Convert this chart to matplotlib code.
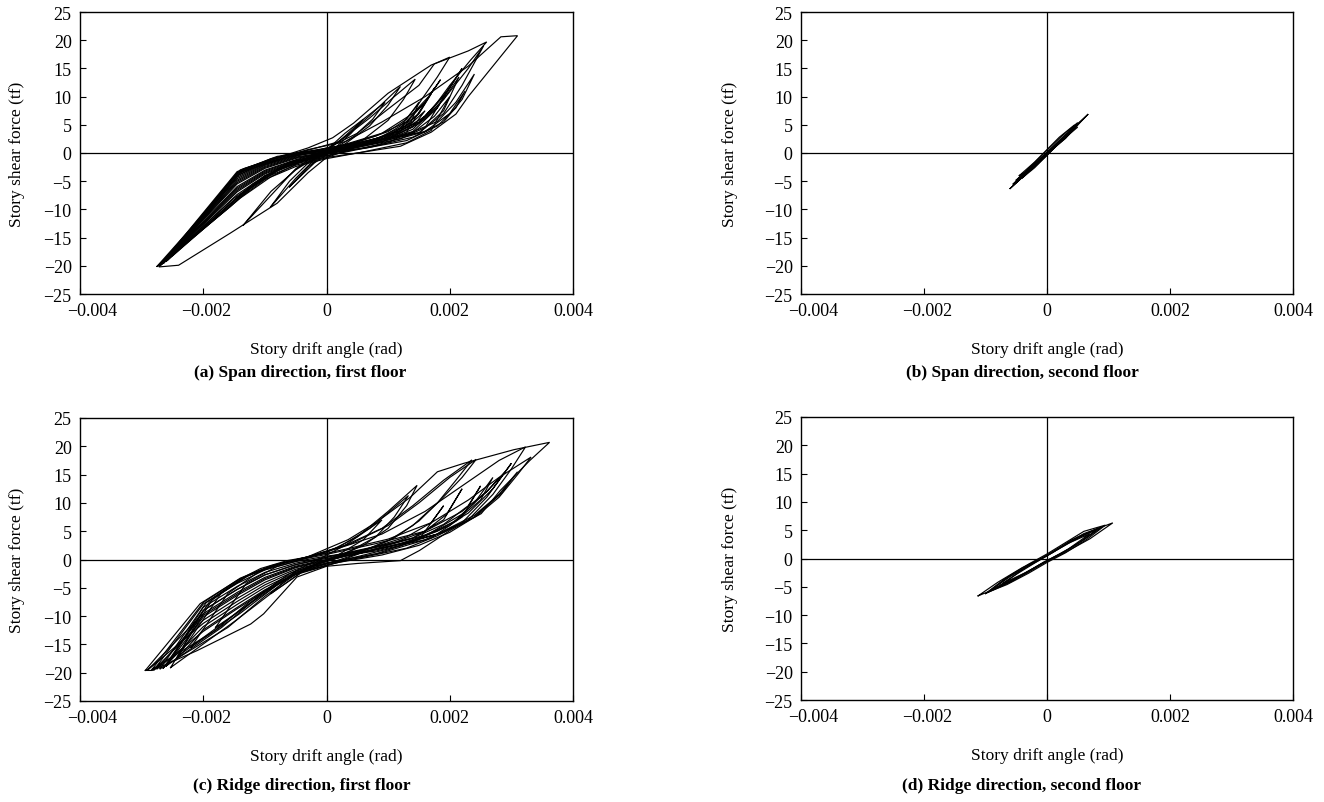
import matplotlib
matplotlib.use("Agg")
import matplotlib.pyplot as plt
import matplotlib.transforms as mtransforms
import numpy as np

plt.rcParams["font.family"] = ["Liberation Serif", "DejaVu Serif"]

# Story drift in units of 1/1000 rad, story shear force in tf.
# Each panel holds a list of recorded loops as (drift, force) vertex lists.

span_1f_loops = [
    ([0.0, 0.5, 1.2, 1.7, 2.1, 2.3, 3.1, 2.83, 2.3, 1.6, 0.9, 0.3, -0.3, -0.9, -1.3, -1.45, -2.72, -2.4, -1.56, -0.8, -0.3, 0.0],
     [-0.8, 0.0, 1.2, 3.7, 6.9, 10.0, 20.8, 20.6, 15.4, 10.0, 5.5, 2.0, 0.6, -1.2, -2.7, -3.6, -20.2, -19.9, -14.2, -8.9, -3.5, -0.8]),
    ([-2.7, -2.0, -1.45, -0.9, -0.3, 0.1, 0.44, 1.0, 1.7, 2.3, 2.6, 2.34, 2.0, 1.7, 1.4, 0.9, 0.3, -0.2, -0.6, -1.2, -1.56, -2.7],
     [-19.7, -11.0, -3.6, -1.2, 0.9, 2.7, 5.3, 10.6, 15.6, 18.1, 19.7, 16.5, 12.0, 7.5, 4.2, 2.0, 0.5, -0.5, -1.8, -6.0, -9.5, -19.7]),
    ([-2.65, -1.5, -1.0, -0.5, 0.0, 0.5, 1.0, 1.5, 1.75, 2.0, 1.8, 1.5, 1.2, 0.8, 0.3, -0.3, -0.8, -1.3, -1.6, -2.65],
     [-19.4, -4.2, -1.8, -0.3, 0.8, 3.5, 7.8, 12.0, 15.8, 17.0, 13.5, 8.8, 4.8, 2.2, 0.6, -0.8, -3.0, -6.8, -9.8, -19.4]),
    ([-2.6, -1.45, -0.9, -0.4, 0.2, 0.7, 1.1, 1.44, 1.25, 1.0, 0.6, 0.2, -0.4, -0.9, -1.4, -2.6],
     [-19.0, -3.5, -1.0, 0.2, 2.0, 6.2, 10.0, 13.1, 9.5, 5.8, 2.4, 0.5, -1.5, -4.2, -8.0, -19.0]),
    ([-1.35, -0.9, -0.5, -0.1, 0.3, 0.7, 1.2, 1.0, 0.7, 0.3, -0.2, -0.5, -0.9, -1.35],
     [-12.8, -6.8, -3.0, -0.2, 2.8, 6.6, 11.8, 8.5, 4.8, 1.6, -0.5, -2.8, -7.5, -12.8]),
    ([-0.91, -0.6, -0.3, 0.0, 0.3, 0.6, 0.95, 0.75, 0.45, 0.1, -0.2, -0.5, -0.91],
     [-9.6, -5.0, -1.8, 0.5, 3.5, 6.0, 9.0, 6.0, 3.0, 0.6, -1.2, -4.5, -9.6]),
    ([-0.6, -0.3, 0.0, 0.3, 0.6, 0.4, 0.1, -0.2, -0.6],
     [-6.0, -2.5, 0.3, 3.0, 6.0, 3.5, 0.5, -1.8, -6.0]),
    ([-2.7, -1.45, -0.8, 0.0, 0.8, 1.5, 1.9, 2.2, 2.55, 2.3, 1.9, 1.5, 1.0, 0.4, -0.3, -1.0, -1.5, -2.7],
     [-19.9, -3.3, -0.6, 0.5, 1.8, 3.6, 7.0, 12.0, 19.0, 15.0, 9.5, 5.2, 2.6, 0.9, -0.9, -4.0, -8.5, -19.9]),
    ([-2.62, -1.4, -0.7, 0.1, 0.9, 1.5, 1.9, 2.2, 2.0, 1.6, 1.1, 0.5, -0.2, -0.9, -1.5, -2.62],
     [-19.2, -3.0, -0.4, 0.9, 2.5, 5.5, 10.0, 15.0, 11.5, 6.5, 3.2, 1.0, -0.6, -3.5, -8.0, -19.2]),
    ([-2.5, -1.35, -0.6, 0.2, 0.9, 1.4, 1.7, 1.5, 1.1, 0.6, 0.0, -0.7, -1.3, -2.5],
     [-18.2, -2.8, -0.2, 1.2, 3.5, 7.0, 10.5, 7.0, 3.6, 1.5, -0.2, -2.5, -6.5, -18.2]),
    ([-2.58, -1.4, -0.65, 0.1, 0.8, 1.3, 1.6, 1.85, 1.6, 1.2, 0.7, 0.1, -0.6, -1.2, -2.58],
     [-19.0, -3.4, -0.8, 0.8, 3.0, 5.5, 9.0, 13.0, 9.0, 4.5, 2.0, 0.3, -1.6, -5.5, -19.0]),
    ([-2.68, -2.0, -1.45, -1.0, -0.5, 0.0, 0.5, 1.2, 1.6, 1.85, 2.05, 1.8, 1.4, 0.8, 0.2, -0.5, -1.0, -1.45, -2.0, -2.68],
     [-19.8, -11.07, -4.07, -1.73, -0.24, 0.44, 1.0, 2.5, 4.5, 9.0, 12.5, 8.0, 3.8, 2.0, 0.6, -1.44, -3.38, -6.42, -12.42, -19.8]),
    ([-2.72, -2.0, -1.45, -1.0, -0.5, 0.0, 0.6, 1.3, 1.8, 2.1, 2.25, 2.0, 1.6, 1.0, 0.4, 0.0, -0.5, -1.0, -1.45, -2.0, -2.72],
     [-20.0, -11.61, -5.01, -2.39, -0.72, 0.12, 0.8, 2.2, 4.8, 8.0, 11.0, 7.0, 3.8, 2.6, 1.2, -0.68, -1.92, -4.04, -7.36, -12.96, -20.0]),
    ([-2.64, -2.0, -1.45, -1.0, -0.5, 0.0, 0.4, 1.0, 1.4, 1.75, 1.5, 1.2, 0.7, 0.1, -0.5, -1.0, -1.45, -2.0, -2.64],
     [-19.5, -11.34, -4.54, -2.06, -0.48, 0.28, 1.3, 3.2, 5.5, 11.5, 7.0, 4.0, 2.2, 0.6, -1.2, -3.05, -5.95, -12.15, -19.5]),
    ([-2.7, -2.0, -1.45, -1.0, -0.5, 0.0, 0.7, 1.4, 1.9, 2.2, 2.4, 2.1, 1.8, 1.3, 0.6, 0.0, -0.5, -1.0, -1.45, -2.0, -2.7],
     [-19.9, -11.88, -5.48, -2.72, -0.96, -0.04, 1.0, 2.8, 5.5, 9.5, 14.0, 9.0, 5.6, 3.3, 1.6, -0.84, -2.16, -4.37, -7.83, -13.23, -19.9]),
    ([-2.66, -2.0, -1.45, -1.0, -0.5, 0.0, 0.5, 1.0, 1.3, 1.5, 1.3, 1.0, 0.6, 0.0, -0.5, -1.0, -1.45, -2.0, -2.66],
     [-19.6, -12.69, -6.89, -3.71, -1.68, -0.52, 0.6, 1.8, 3.5, 9.0, 6.0, 3.8, 2.3, 0.36, -0.36, -1.9, -4.3, -11.2, -19.6]),
    ([-2.6, -2.0, -1.45, -1.0, -0.5, 0.0, 0.6, 1.3, 1.7, 2.0, 1.75, 1.4, 0.9, 0.3, 0.0, -0.5, -1.0, -1.45, -2.0, -2.6],
     [-19.2, -13.5, -8.3, -4.7, -2.4, -1.0, 0.2, 1.8, 4.0, 10.0, 6.5, 3.6, 2.0, 1.0, 0.04, -0.84, -2.56, -5.25, -11.75, -19.2]),
    ([-2.75, -2.0, -1.45, -1.0, -0.5, 0.0, 0.5, 1.1, 1.4, 1.6, 1.35, 0.9, 0.4, 0.0, -0.5, -1.0, -1.45, -2.0, -2.75],
     [-20.1, -10.9, -3.8, -1.55, -0.12, 0.52, 1.4, 3.0, 4.6, 7.5, 5.0, 2.8, 1.6, -0.3, -1.3, -3.2, -6.2, -12.3, -20.1]),
    ([-2.7, -2.0, -1.45, -1.0, -0.5, 0.0, 0.8, 1.5, 1.9, 2.15, 1.9, 1.6, 1.2, 0.6, 0.0, -0.5, -1.0, -1.45, -2.0, -2.7],
     [-19.7, -12.55, -6.65, -3.55, -1.56, -0.44, 1.4, 3.5, 7.5, 13.5, 9.5, 6.0, 3.6, 2.0, 0.9, -0.6, -2.2, -4.8, -11.5, -19.7]),
]

span_2f_loops = [
    ([-0.6, -0.3, 0.0, 0.3, 0.5, 0.67, 0.45, 0.2, -0.1, -0.4, -0.6],
     [-6.3, -3.3, -0.1, 3.1, 5.2, 6.9, 4.4, 1.8, -1.3, -4.3, -6.3]),
    ([-0.5, -0.25, 0.0, 0.25, 0.5, 0.35, 0.1, -0.15, -0.5],
     [-5.0, -2.8, -0.3, 2.4, 5.0, 3.2, 0.8, -1.9, -5.0]),
    ([-0.45, -0.2, 0.05, 0.3, 0.48, 0.3, 0.0, -0.25, -0.45],
     [-4.5, -2.3, 0.3, 2.9, 4.8, 2.6, -0.1, -2.9, -4.5]),
    ([-0.5, -0.25, 0.0, 0.25, 0.5, 0.3, 0.05, -0.2, -0.5],
     [-4.8, -2.2, 0.5, 3.1, 5.4, 2.9, 0.2, -2.4, -4.8]),
    ([-0.55, -0.3, 0.0, 0.3, 0.55, 0.35, 0.05, -0.25, -0.55],
     [-5.5, -3.0, -0.2, 2.6, 5.6, 3.6, 0.6, -2.3, -5.5]),
    ([-0.35, -0.15, 0.05, 0.25, 0.4, 0.2, 0.0, -0.2, -0.35],
     [-3.8, -1.9, 0.4, 2.5, 4.2, 2.0, -0.2, -2.3, -3.8]),
    ([-0.45, -0.2, 0.0, 0.2, 0.45, 0.25, 0.0, -0.25, -0.45],
     [-4.0, -1.6, 0.6, 2.8, 5.0, 2.3, -0.4, -2.9, -4.0]),
    ([-0.4, -0.2, 0.0, 0.2, 0.5, 0.3, 0.1, -0.1, -0.4],
     [-4.4, -2.6, -0.4, 1.8, 4.6, 3.3, 1.2, -0.9, -4.4]),
]

ridge_1f_loops = [
    ([-2.94, -2.05, -1.45, -1.07, -0.64, -0.32, 0.35, 0.8, 1.36, 1.8, 2.23, 3.04, 3.62, 3.3, 2.82, 2.51, 2.0, 1.51, 1.2, 0.5, 0.0, -0.48, -1.02, -1.23, -2.1, -2.83, -2.94],
     [-19.6, -7.8, -3.7, -1.6, -0.2, 0.4, 3.5, 6.5, 11.0, 15.5, 17.0, 19.4, 20.7, 17.5, 12.2, 8.1, 5.1, 1.6, -0.2, -0.7, -1.2, -3.1, -9.6, -11.4, -16.1, -19.6, -19.6]),
    ([-2.7, -1.95, -1.4, -0.9, -0.4, 0.2, 0.9, 1.6, 2.2, 2.8, 3.23, 3.0, 2.7, 2.3, 1.8, 1.3, 0.6, 0.0, -0.5, -1.0, -1.6, -2.7],
     [-19.3, -7.6, -3.4, -1.2, 0.2, 2.0, 4.5, 8.5, 13.0, 17.5, 19.9, 16.0, 11.5, 7.0, 4.2, 2.0, 0.4, -0.7, -2.6, -6.5, -12.0, -19.3]),
    ([-2.53, -1.85, -1.3, -0.8, -0.3, 0.3, 1.0, 1.7, 2.3, 2.8, 3.32, 3.1, 2.8, 2.45, 2.0, 1.5, 0.9, 0.2, -0.4, -0.9, -1.5, -2.53],
     [-19.1, -7.0, -3.0, -0.9, 0.4, 1.8, 3.6, 6.5, 10.5, 14.5, 18.1, 15.0, 11.0, 7.8, 4.8, 2.5, 0.8, -0.5, -2.2, -6.0, -11.0, -19.1]),
    ([-2.83, -2.0, -1.4, -0.9, -0.3, 0.3, 0.9, 1.4, 1.9, 2.36, 2.1, 1.8, 1.4, 1.0, 0.5, -0.1, -0.6, -1.2, -1.8, -2.83],
     [-19.4, -7.6, -3.3, -1.1, 0.5, 2.5, 5.5, 9.5, 14.0, 17.6, 14.0, 10.0, 6.0, 3.3, 1.2, -0.5, -2.5, -7.0, -12.5, -19.4]),
    ([-2.6, -1.9, -1.35, -0.85, -0.25, 0.4, 1.0, 1.5, 2.0, 2.43, 2.2, 1.85, 1.5, 1.1, 0.6, 0.0, -0.5, -1.1, -1.7, -2.6],
     [-18.8, -7.5, -3.2, -1.0, 0.6, 2.8, 6.0, 10.0, 14.5, 17.7, 14.5, 10.5, 6.8, 3.8, 1.5, -0.3, -2.3, -6.5, -12.0, -18.8]),
    ([-2.2, -1.6, -1.1, -0.6, 0.0, 0.5, 1.0, 1.47, 1.3, 1.0, 0.6, 0.2, -0.3, -0.8, -1.4, -2.2],
     [-15.5, -6.0, -2.2, -0.3, 1.2, 4.0, 8.5, 13.1, 9.5, 5.5, 2.5, 0.6, -1.3, -4.5, -9.5, -15.5]),
    ([-1.8, -1.3, -0.8, -0.3, 0.2, 0.7, 1.33, 1.1, 0.8, 0.4, -0.1, -0.6, -1.2, -1.8],
     [-12.0, -4.2, -1.2, 0.3, 2.2, 5.5, 11.3, 7.5, 4.0, 1.6, -0.6, -3.0, -7.5, -12.0]),
    ([-0.9, -0.5, -0.1, 0.3, 0.9, 0.6, 0.2, -0.3, -0.9],
     [-6.0, -2.0, 0.2, 2.5, 7.0, 3.5, 0.9, -1.5, -6.0]),
    ([-2.4, -1.7, -1.2, -0.7, 0.0, 0.8, 1.6, 2.2, 2.6, 2.9, 2.6, 2.2, 1.7, 1.2, 0.5, -0.2, -0.8, -1.4, -2.4],
     [-17.0, -5.8, -2.4, -0.6, 0.9, 2.8, 5.0, 8.5, 12.0, 15.5, 12.0, 8.0, 4.8, 2.4, 0.5, -1.2, -4.0, -9.0, -17.0]),
    ([-2.8, -2.0, -1.45, -1.0, -0.5, 0.0, 0.6, 1.4, 2.0, 2.4, 2.7, 2.5, 2.1, 1.6, 1.0, 0.4, 0.0, -0.5, -1.0, -1.45, -2.0, -2.8],
     [-19.5, -7.87, -4.23, -1.84, -0.37, 0.6, 1.4, 3.2, 6.0, 10.0, 14.5, 10.5, 6.8, 4.3, 2.6, 1.2, -0.4, -1.72, -4.04, -6.88, -10.72, -19.5]),
    ([-2.65, -2.0, -1.45, -1.0, -0.5, 0.0, 0.8, 1.6, 2.2, 2.6, 3.0, 2.7, 2.3, 1.8, 1.2, 0.5, 0.0, -0.5, -1.0, -1.45, -2.0, -2.65],
     [-19.2, -9.01, -5.29, -2.72, -0.91, 0.2, 1.5, 3.5, 6.5, 11.0, 17.0, 12.5, 8.2, 5.0, 2.8, 1.0, -0.8, -2.26, -4.92, -7.94, -11.86, -19.2]),
    ([-2.6, -2.0, -1.45, -1.0, -0.5, 0.0, 0.7, 1.4, 1.9, 2.2, 1.95, 1.6, 1.1, 0.5, 0.0, -0.5, -1.0, -1.45, -2.0, -2.6],
     [-18.8, -10.15, -6.35, -3.6, -1.45, -0.2, 1.6, 3.8, 7.0, 12.5, 8.0, 5.0, 3.0, 1.5, 0.4, -0.64, -2.28, -4.76, -8.44, -18.8]),
    ([-2.9, -2.0, -1.45, -1.0, -0.5, 0.0, 0.9, 1.7, 2.2, 2.5, 2.3, 1.9, 1.4, 0.7, 0.0, -0.5, -1.0, -1.45, -2.0, -2.9],
     [-19.5, -11.29, -7.41, -4.48, -1.99, -0.6, 1.2, 3.8, 7.5, 13.0, 9.5, 6.2, 3.8, 2.0, 0.0, -1.18, -3.16, -5.82, -9.58, -19.5]),
    ([-2.45, -2.0, -1.45, -1.0, -0.5, 0.0, 0.8, 1.5, 1.9, 1.7, 1.3, 0.8, 0.2, -0.5, -1.0, -1.45, -2.0, -2.45],
     [-17.8, -12.43, -8.47, -5.36, -2.53, -1.0, 1.0, 3.5, 9.5, 6.5, 4.0, 2.3, 0.9, -0.91, -2.72, -5.29, -9.01, -17.8]),
    ([-2.75, -2.0, -1.45, -1.0, -0.5, 0.0, 0.9, 1.8, 2.4, 2.8, 3.1, 2.85, 2.4, 1.9, 1.3, 0.6, 0.0, -0.5, -1.0, -1.45, -2.0, -2.75],
     [-19.3, -9.87, -6.09, -3.38, -1.32, -0.1, 2.0, 4.5, 7.8, 11.5, 15.5, 11.8, 7.5, 4.8, 2.9, 1.3, -1.1, -2.67, -5.6, -8.7, -12.7, -19.3]),
]

ridge_2f_loops = [
    ([-1.12, -0.8, -0.4, 0.0, 0.4, 0.8, 1.07, 0.7, 0.3, -0.1, -0.5, -0.85, -1.12],
     [-6.6, -4.2, -1.6, 0.5, 3.0, 5.2, 6.3, 3.5, 1.1, -1.0, -3.4, -5.4, -6.6]),
    ([-0.9, -0.6, -0.3, 0.0, 0.3, 0.6, 0.9, 0.6, 0.3, 0.0, -0.3, -0.6, -0.9],
     [-5.5, -3.2, -1.2, 0.6, 2.5, 4.4, 5.6, 3.3, 1.3, -0.5, -2.4, -4.2, -5.5]),
    ([-0.7, -0.35, 0.0, 0.35, 0.7, 0.35, 0.0, -0.35, -0.7],
     [-4.3, -1.6, 0.5, 2.7, 4.4, 1.7, -0.4, -2.5, -4.3]),
    ([-0.95, -0.6, -0.3, 0.0, 0.3, 0.6, 0.95, 0.65, 0.3, 0.0, -0.3, -0.65, -0.95],
     [-5.9, -3.0, -1.0, 0.8, 2.8, 4.8, 5.9, 3.4, 1.0, -0.7, -2.6, -4.6, -5.9]),
    ([-0.8, -0.5, -0.2, 0.1, 0.4, 0.8, 0.5, 0.2, -0.1, -0.4, -0.8],
     [-5.0, -2.8, -0.8, 1.1, 3.3, 5.0, 2.6, 0.7, -1.0, -2.9, -5.0]),
    ([-1.0, -0.7, -0.4, -0.1, 0.2, 0.5, 0.85, 0.55, 0.25, -0.05, -0.35, -0.7, -1.0],
     [-6.2, -3.7, -1.9, -0.1, 1.9, 3.8, 5.4, 3.0, 1.0, -0.6, -2.6, -4.7, -6.2]),
]

captions = [
    "(a) Span direction, first floor",
    "(b) Span direction, second floor",
    "(c) Ridge direction, first floor",
    "(d) Ridge direction, second floor",
]
x_ticks = [-0.004, -0.002, 0, 0.002, 0.004]
x_tick_labels = ["\u22120.004", "\u22120.002", "0", "0.002", "0.004"]
y_ticks = [-25, -20, -15, -10, -5, 0, 5, 10, 15, 20, 25]

W, H = 1324, 803
fig = plt.figure(figsize=(W / 100, H / 100), dpi=100)

# axes boxes in pixels: left, top, right, bottom
boxes = [
    (80, 13, 573, 295),
    (801, 13, 1293, 295),
    (80, 419, 573, 702),
    (801, 418, 1293, 701),
]
ylabel_x = [-0.112, -0.128, -0.112, -0.128]
caption_pos = [(300, 373), (1022, 373), (302, 786), (1022, 786)]
panels = [span_1f_loops, span_2f_loops, ridge_1f_loops, ridge_2f_loops]

for box, loops, cap, ylx, cpos in zip(boxes, panels, captions, ylabel_x, caption_pos):
    l, t, r, b = box
    ax = fig.add_axes([l / W, 1 - b / H, (r - l) / W, (b - t) / H])
    ax.axhline(0, color="black", lw=0.9, zorder=1)
    ax.axvline(0, color="black", lw=0.9, zorder=1)
    for drift, force in loops:
        ax.plot(np.asarray(drift) * 1e-3, force, color="black", lw=0.85,
                solid_joinstyle="miter", zorder=2)
    ax.set_xlim(-0.004, 0.004)
    ax.set_ylim(-25, 25)
    ax.set_xticks(x_ticks)
    ax.set_xticklabels(x_tick_labels)
    ax.set_yticks(y_ticks)
    ax.set_yticklabels([str(v).replace("-", "\u2212") for v in y_ticks])
    ax.tick_params(direction="in", length=4, width=0.8, labelsize=13, pad=6)
    # the outermost negative drift label sits slightly inside the axis end
    shifts = [0.12, 0.03, 0, 0, 0]
    for lab, dx in zip(ax.get_xticklabels(), shifts):
        lab.set_transform(lab.get_transform() +
                          mtransforms.ScaledTranslation(dx, 0, fig.dpi_scale_trans))
    for s in ax.spines.values():
        s.set_linewidth(1.0)
    ax.set_xlabel("Story drift angle (rad)", fontsize=12.5)
    ax.set_ylabel("Story shear force (tf)", fontsize=12.5)
    ax.xaxis.set_label_coords(0.5, -0.165)
    ax.yaxis.set_label_coords(ylx, 0.5)
    fig.text(cpos[0] / W, 1 - cpos[1] / H, cap, ha="center", va="center",
             fontsize=12.5, fontweight="bold")

fig.savefig("out.png", dpi=100)
